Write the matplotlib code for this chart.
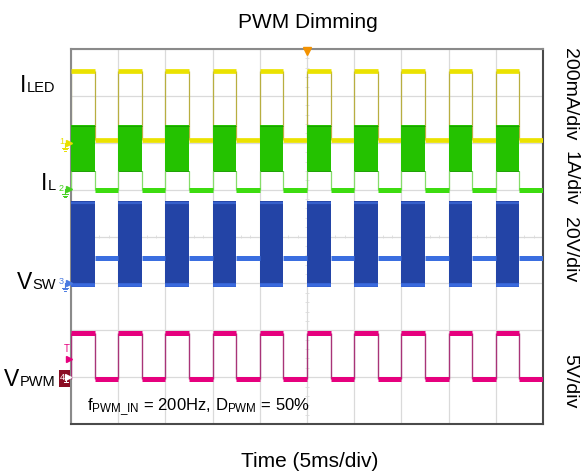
import numpy as np
import matplotlib
matplotlib.use('Agg')
import matplotlib.pyplot as plt
from matplotlib.patches import Rectangle

# ---------------- data ----------------
period_ms = 5.0                     # f_PWM_IN = 200 Hz
duty = 0.50                         # D_PWM = 50 %
pulse_starts_ms = [0, 5, 10, 15, 20, 25, 30, 35, 40, 45]
ms_per_div = 5.0
n_hdiv = 10
n_vdiv = 8

channel_labels = [('I', 'LED'), ('I', 'L'), ('V', 'SW'), ('V', 'PWM')]
channel_scale_text = ['200mA/div', '1A/div', '20V/div', '5V/div']
channel_scale = [0.2, 1.0, 20.0, 5.0]          # units per division
channel_offset_div = [6.0, 5.0, 3.0, 1.0]      # ground marker positions

iled_high_A = 0.306
iled_low_A = 0.010
il_off_A = -0.01
il_on_min_A = 0.39
il_on_max_A = 1.37
vsw_off_V = 11.0
vsw_on_min_V = -1.6
vsw_on_max_V = 35.0
vpwm_high_V = 4.75
vpwm_low_V = -0.15

# ---------------- style ----------------
plt.rcParams['font.family'] = ['Liberation Sans', 'DejaVu Sans']
plt.rcParams['mathtext.fontset'] = 'custom'
plt.rcParams['mathtext.rm'] = 'Liberation Sans'
plt.rcParams['mathtext.it'] = 'Liberation Sans'

W, H = 583, 475
fig = plt.figure(figsize=(W / 100, H / 100), dpi=100)
L, R, T, B = 71, 543, 49, 424
ax = fig.add_axes([L / W, 1 - B / H, (R - L) / W, (B - T) / H])
ax.set_xlim(0, n_hdiv * ms_per_div)
ax.set_ylim(0, n_vdiv)
ax.set_xticks(np.arange(0, n_hdiv * ms_per_div + 0.1, ms_per_div))
ax.set_yticks(np.arange(0, n_vdiv + 1))
ax.tick_params(length=0, labelbottom=False, labelleft=False)
ax.grid(True, color='#dadada', lw=0.9)
ax.set_axisbelow(True)
for s in ['top', 'left']:
    ax.spines[s].set_color('#8a8a8a')
    ax.spines[s].set_linewidth(1.5)
for s in ['right', 'bottom']:
    ax.spines[s].set_color('#4a4a4a')
    ax.spines[s].set_linewidth(1.5)

# centre graticule fine ticks
xc = n_hdiv * ms_per_div / 2
yc = n_vdiv / 2
ax.hlines(np.arange(0, n_vdiv + 0.01, 0.2), xc - 0.2, xc + 0.2, color='#e2e2e2', lw=0.7, zorder=0.5)
ax.vlines(np.arange(0, n_hdiv * ms_per_div + 0.01, 1.0), yc - 0.04, yc + 0.04, color='#e2e2e2', lw=0.7, zorder=0.5)


def ydiv(ch, v):
    return channel_offset_div[ch] + v / channel_scale[ch]


on_starts = np.array(pulse_starts_ms, dtype=float)
on_ends = on_starts + duty * period_ms
off_ends = on_starts + period_ms
edges = np.concatenate([on_starts, on_ends])


def hl(y, x0, x1, **kw):
    ax.hlines(np.full(len(x0), y), x0, x1, **kw)


# ---- ILED (yellow) ----
yh, yl = ydiv(0, iled_high_A), ydiv(0, iled_low_A)
ax.vlines(edges, yl, yh, color='#b8ae40', lw=0.9, zorder=2)
hl(yh, on_starts, on_ends, color='#ebe200', lw=3.4, zorder=3)
hl(yl, on_ends, off_ends, color='#ebe200', lw=3.4, zorder=3)

# ---- IL (green) ----
g0 = ydiv(1, il_off_A)
g1, g2 = ydiv(1, il_on_min_A), ydiv(1, il_on_max_A)
ax.vlines(edges, g0, g1, color='#86dc6a', lw=0.9, zorder=4)
for a, b in zip(on_starts, on_ends):
    ax.fill_between([a, b], g1, g2, color='#24c200', lw=0, zorder=5)
hl(g2 - 0.015, on_starts, on_ends, color='#1aa000', lw=0.7, zorder=5)
hl(g1 + 0.015, on_starts, on_ends, color='#1aa000', lw=0.7, zorder=5)
hl(g0, on_ends, off_ends, color='#3ddc10', lw=3.6, zorder=5)

# ---- VSW (blue) ----
b0 = ydiv(2, vsw_off_V)
b1, b2 = ydiv(2, vsw_on_min_V), ydiv(2, vsw_on_max_V)
for a, b in zip(on_starts, on_ends):
    ax.fill_between([a, b], b1, b2, color='#2344a6', lw=0, zorder=6)
hl(b2 - 0.025, on_starts, on_ends, color='#3660cc', lw=1.6, zorder=6)
hl(b1 + 0.05, on_starts, on_ends, color='#3a6ade', lw=2.6, zorder=6)
hl(b0, on_ends, off_ends, color='#3a6ee0', lw=3.6, zorder=6)

# ---- VPWM (magenta) ----
p1, p0 = ydiv(3, vpwm_high_V), ydiv(3, vpwm_low_V)
ax.vlines(edges, p0, p1, color='#a83478', lw=1.0, zorder=7)
hl(p1, on_starts, on_ends, color='#e6007e', lw=3.6, zorder=8)
hl(p0, on_ends, off_ends, color='#e6007e', lw=3.6, zorder=8)

# trigger position marker (top centre)
ax.plot([xc], [n_vdiv - 0.04], marker='v', color='#f39200', ms=5.5, clip_on=False, zorder=10)


# ---------------- helpers in pixel coordinates ----------------
def fx(x):
    return x / W


def fy(y):
    return 1 - y / H


renderer = fig.canvas.get_renderer()


def sub_label(main, sub, x_right, baseline, fs_main=16.5, fs_sub=10.5):
    ts = fig.text(fx(x_right), fy(baseline), sub, fontsize=fs_sub, ha='right', va='baseline')
    w = ts.get_window_extent(renderer=renderer).width
    fig.text(fx(x_right - w - 0.3), fy(baseline), main, fontsize=fs_main, ha='right', va='baseline')


baselines = [92.5, 190, 289, 386]
for (m, s), bl in zip(channel_labels, baselines):
    sub_label(m, s, 55.5, bl)

# right scale labels
right_centres = [94, 178, 250, 381]
for txt, yc_px in zip(channel_scale_text, right_centres):
    fig.text(fx(570), fy(yc_px), txt, fontsize=14, rotation=270, ha='center', va='center')

# title and axis label
fig.text(fx(308), fy(28), 'PWM Dimming', fontsize=15, ha='center', va='baseline')
fig.text(fx(310), fy(467), 'Time (5ms/div)', fontsize=15, ha='center', va='baseline')

# annotation
fig.text(fx(87), fy(410), r'$\mathrm{f}_{\mathrm{PWM\_IN}}$ = 200Hz, $\mathrm{D}_{\mathrm{PWM}}$ = 50%',
         fontsize=12, ha='left', va='baseline')


def fline(xs, ys, **kw):
    fig.lines.append(plt.Line2D([fx(v) for v in xs], [fy(v) for v in ys],
                                transform=fig.transFigure, figure=fig, **kw))


# channel ground markers on the left edge
marker_cols = ['#e8e000', '#44d020', '#4a7ae0']
marker_y = [142.5, 189, 282.5]
for i, (c, my) in enumerate(zip(marker_cols, marker_y)):
    fig.text(fx(61.5), fy(my - 0.5), str(i + 1), fontsize=6.5, color=c, ha='center', va='center')
    fline([68.5], [my], marker='>', ms=4.5, color=c)
    fline([64.5, 64.5], [my, my + 5], lw=0.8, color=c)
    for k, hw in enumerate([3, 2, 1]):
        yy = my + 5 + 1.6 * k
        fline([64.5 - hw, 64.5 + hw], [yy, yy], lw=0.7, color=c)

# channel 4 boxed marker
fig.patches.append(Rectangle((fx(59), fy(387)), 11 / W, 17 / H, transform=fig.transFigure,
                             facecolor='#8a0c22', edgecolor='none', figure=fig))
fig.text(fx(62.5), fy(377.5), '4', fontsize=6.5, color='white', ha='center', va='center')
fline([68], [377], marker='>', ms=4, color='white')
fline([65.5, 65.5], [377, 381], lw=0.7, color='white')
fline([63.5, 67.5], [381.5, 381.5], lw=0.7, color='white')

# trigger level marker
fig.text(fx(67), fy(349), 'T', fontsize=7, color='#e6007e', ha='center', va='center')
fline([68.5], [359], marker='>', ms=4.5, color='#e6007e')

fig.savefig('out.png', dpi=100)
